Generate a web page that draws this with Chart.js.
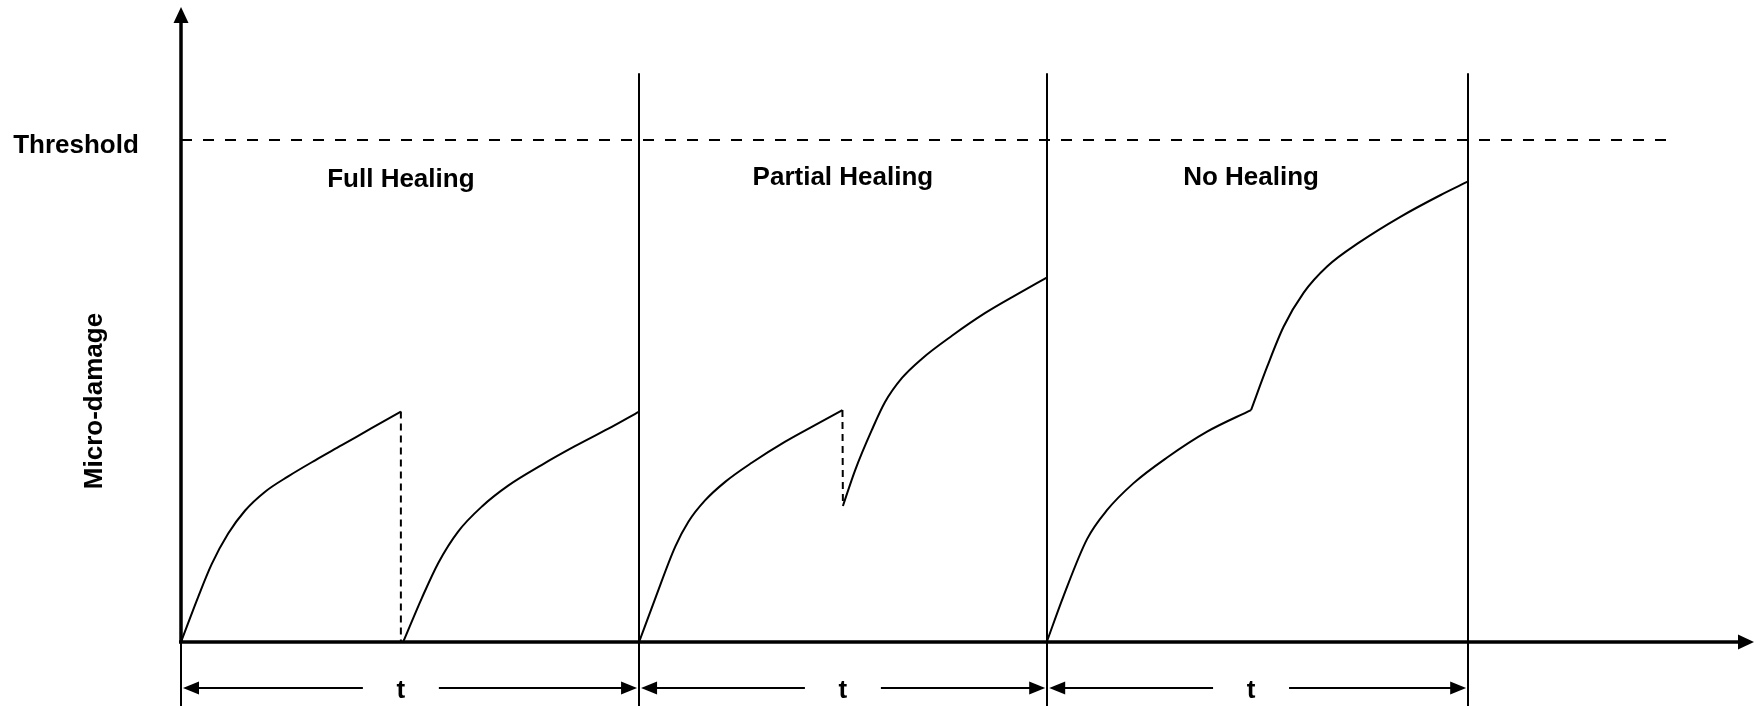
<!DOCTYPE html>
<html>
<head>
<meta charset="utf-8">
<script src="https://cdn.jsdelivr.net/npm/chart.js@4.4.0/dist/chart.umd.min.js"></script>
<style>
  html, body { margin: 0; padding: 0; background: #fff; }
  #wrap { width: 1761px; height: 706px; }
</style>
</head>
<body>
<div id="wrap"><canvas id="myChart"></canvas></div>
<script>
// time in arbitrary units, micro-damage in % of threshold
const fullLoad1X = [0, 3.8, 6.7, 10.3, 14.0, 18.3, 23.4, 29.3, 35.1, 41.6, 48.0]
const fullLoad1Y = [0, 9.1, 15.5, 21.6, 26.2, 29.9, 33.0, 36.2, 39.2, 42.6, 45.9]
const fullLoad2X = [48.5, 52.6, 56.2, 60.5, 65.7, 71.5, 78.8, 86.0, 93.3, 100]
const fullLoad2Y = [0, 8.8, 15.8, 22.0, 27.0, 31.2, 35.3, 39.0, 42.5, 45.9]
const partLoad1X = [100, 103.5, 107.9, 110.8, 114.4, 118.8, 124.6, 131.9, 138.4, 144.4]
const partLoad1Y = [0, 8.6, 19.0, 24.0, 28.2, 31.9, 35.7, 39.9, 43.2, 46.2]
const partLoad2X = [144.5, 147.2, 150.8, 153.7, 157.4, 161.7, 168.3, 175.5, 182.8, 189.0]
const partLoad2Y = [27.1, 34.3, 42.2, 47.8, 52.6, 56.4, 61.0, 65.5, 69.4, 72.6]
const noLoad1X = [189.0, 192.6, 197.8, 202.1, 207.9, 215.2, 224.0, 233.6]
const noLoad1Y = [0, 9.0, 20.5, 26.2, 31.6, 36.7, 41.9, 46.2]
const noLoad2X = [233.6, 237.1, 240.7, 245.1, 250.2, 257.4, 266.2, 274.9, 280.9]
const noLoad2Y = [46.2, 54.8, 62.8, 69.6, 74.8, 79.7, 84.7, 89.0, 91.7]

const threshold = 100
const thresholdEnd = 325.3
const periodBounds = [0, 100, 189.1, 281]
const phaseLabels = ['Full Healing', 'Partial Healing', 'No Healing']
const phaseX = [48, 144.5, 233.6]
const periodLabel = 't'
const yLabel = 'Micro-damage'
const thresholdLabel = 'Threshold'

const xMax = 343.4
const yMax = 126.5
const dividerTop = 113.3

const pts = (xs, ys) => xs.map((x, i) => ({ x: x, y: ys[i] }))

const curve = (xs, ys) => ({
    data: pts(xs, ys),
    borderColor: '#000',
    borderWidth: 2,
    pointRadius: 0,
    showLine: true,
    cubicInterpolationMode: 'monotone',
    fill: false
})

const dashed = (data, dash) => ({
    data: data,
    borderColor: '#000',
    borderWidth: 2,
    borderDash: dash,
    pointRadius: 0,
    showLine: true,
    fill: false
})

const FONT = 'bold 26px "Liberation Sans", Arial, Helvetica, sans-serif'

const drawArrowHead = (ctx, x, y, dir, len, half) => {
    ctx.beginPath()
    if (dir === 'left') { ctx.moveTo(x, y); ctx.lineTo(x + len, y - half); ctx.lineTo(x + len, y + half) }
    if (dir === 'right') { ctx.moveTo(x, y); ctx.lineTo(x - len, y - half); ctx.lineTo(x - len, y + half) }
    if (dir === 'up') { ctx.moveTo(x, y); ctx.lineTo(x - half, y + len); ctx.lineTo(x + half, y + len) }
    ctx.closePath()
    ctx.fill()
}

const diagram = {
    id: 'diagram',
    beforeDatasetsDraw(chart) {
        const ctx = chart.ctx
        const xs = chart.scales.x, ys = chart.scales.y
        const H = chart.height
        const x0 = xs.getPixelForValue(0), y0 = ys.getPixelForValue(0)
        ctx.save()
        ctx.strokeStyle = '#000'
        ctx.fillStyle = '#000'

        // period dividers
        ctx.lineWidth = 2
        periodBounds.slice(1).forEach(b => {
            const px = Math.round(xs.getPixelForValue(b))
            ctx.beginPath()
            ctx.moveTo(px, ys.getPixelForValue(dividerTop))
            ctx.lineTo(px, H)
            ctx.stroke()
        })
        // y axis below origin
        ctx.beginPath()
        ctx.moveTo(x0, y0)
        ctx.lineTo(x0, H)
        ctx.stroke()

        // axes
        ctx.lineWidth = 3.5
        ctx.beginPath()
        ctx.moveTo(x0, y0)
        ctx.lineTo(x0, ys.getPixelForValue(yMax) + 14)
        ctx.stroke()
        drawArrowHead(ctx, x0, ys.getPixelForValue(yMax), 'up', 16, 7.5)
        ctx.beginPath()
        ctx.moveTo(x0 - 2, y0)
        ctx.lineTo(xs.getPixelForValue(xMax) - 14, y0)
        ctx.stroke()
        drawArrowHead(ctx, xs.getPixelForValue(xMax), y0, 'right', 16, 7.5)

        // period arrows with t
        ctx.lineWidth = 2
        ctx.font = FONT
        ctx.textAlign = 'center'
        ctx.textBaseline = 'alphabetic'
        const ay = 688
        for (let i = 0; i < periodBounds.length - 1; i++) {
            const a = xs.getPixelForValue(periodBounds[i]) + 2
            const b = xs.getPixelForValue(periodBounds[i + 1]) - 2
            const c = xs.getPixelForValue(phaseX[i])
            ctx.beginPath()
            ctx.moveTo(a + 10, ay); ctx.lineTo(c - 38, ay)
            ctx.moveTo(c + 38, ay); ctx.lineTo(b - 10, ay)
            ctx.stroke()
            drawArrowHead(ctx, a, ay, 'left', 16, 6.5)
            drawArrowHead(ctx, b, ay, 'right', 16, 6.5)
            ctx.fillText(periodLabel, c, 698)
        }

        // phase labels
        phaseLabels.forEach((t, i) => {
            ctx.fillText(t, xs.getPixelForValue(phaseX[i]), i === 0 ? 187 : 185)
        })
        ctx.fillText(thresholdLabel, 76, ys.getPixelForValue(threshold) + 13)

        // y title
        ctx.translate(102, 401)
        ctx.rotate(-Math.PI / 2)
        ctx.fillText(yLabel, 0, 0)
        ctx.restore()
    }
}

window.onload = () => {
    const ctx = document.getElementById('myChart').getContext('2d')
    const myChart = new Chart(ctx, {
        type: 'scatter',
        data: {
            datasets: [
                curve(fullLoad1X, fullLoad1Y),
                curve(fullLoad2X, fullLoad2Y),
                curve(partLoad1X, partLoad1Y),
                curve(partLoad2X, partLoad2Y),
                curve(noLoad1X, noLoad1Y),
                curve(noLoad2X, noLoad2Y),
                dashed([{ x: fullLoad1X[fullLoad1X.length - 1], y: fullLoad1Y[fullLoad1Y.length - 1] }, { x: fullLoad1X[fullLoad1X.length - 1], y: 0 }], [7, 5]),
                dashed([{ x: partLoad1X[partLoad1X.length - 1], y: partLoad1Y[partLoad1Y.length - 1] }, { x: partLoad2X[0], y: partLoad2Y[0] }], [7, 5]),
                dashed([{ x: 0, y: threshold }, { x: thresholdEnd, y: threshold }], [11, 11])
            ]
        },
        options: {
            responsive: true,
            maintainAspectRatio: false,
            animation: false,
            layout: { padding: { left: 181, right: 7, top: 7, bottom: 64 } },
            plugins: { legend: { display: false }, tooltip: { enabled: false } },
            scales: {
                x: { type: 'linear', min: 0, max: xMax, display: false },
                y: { type: 'linear', min: 0, max: yMax, display: false }
            }
        },
        plugins: [diagram]
    })
}
</script>
</body>
</html>
